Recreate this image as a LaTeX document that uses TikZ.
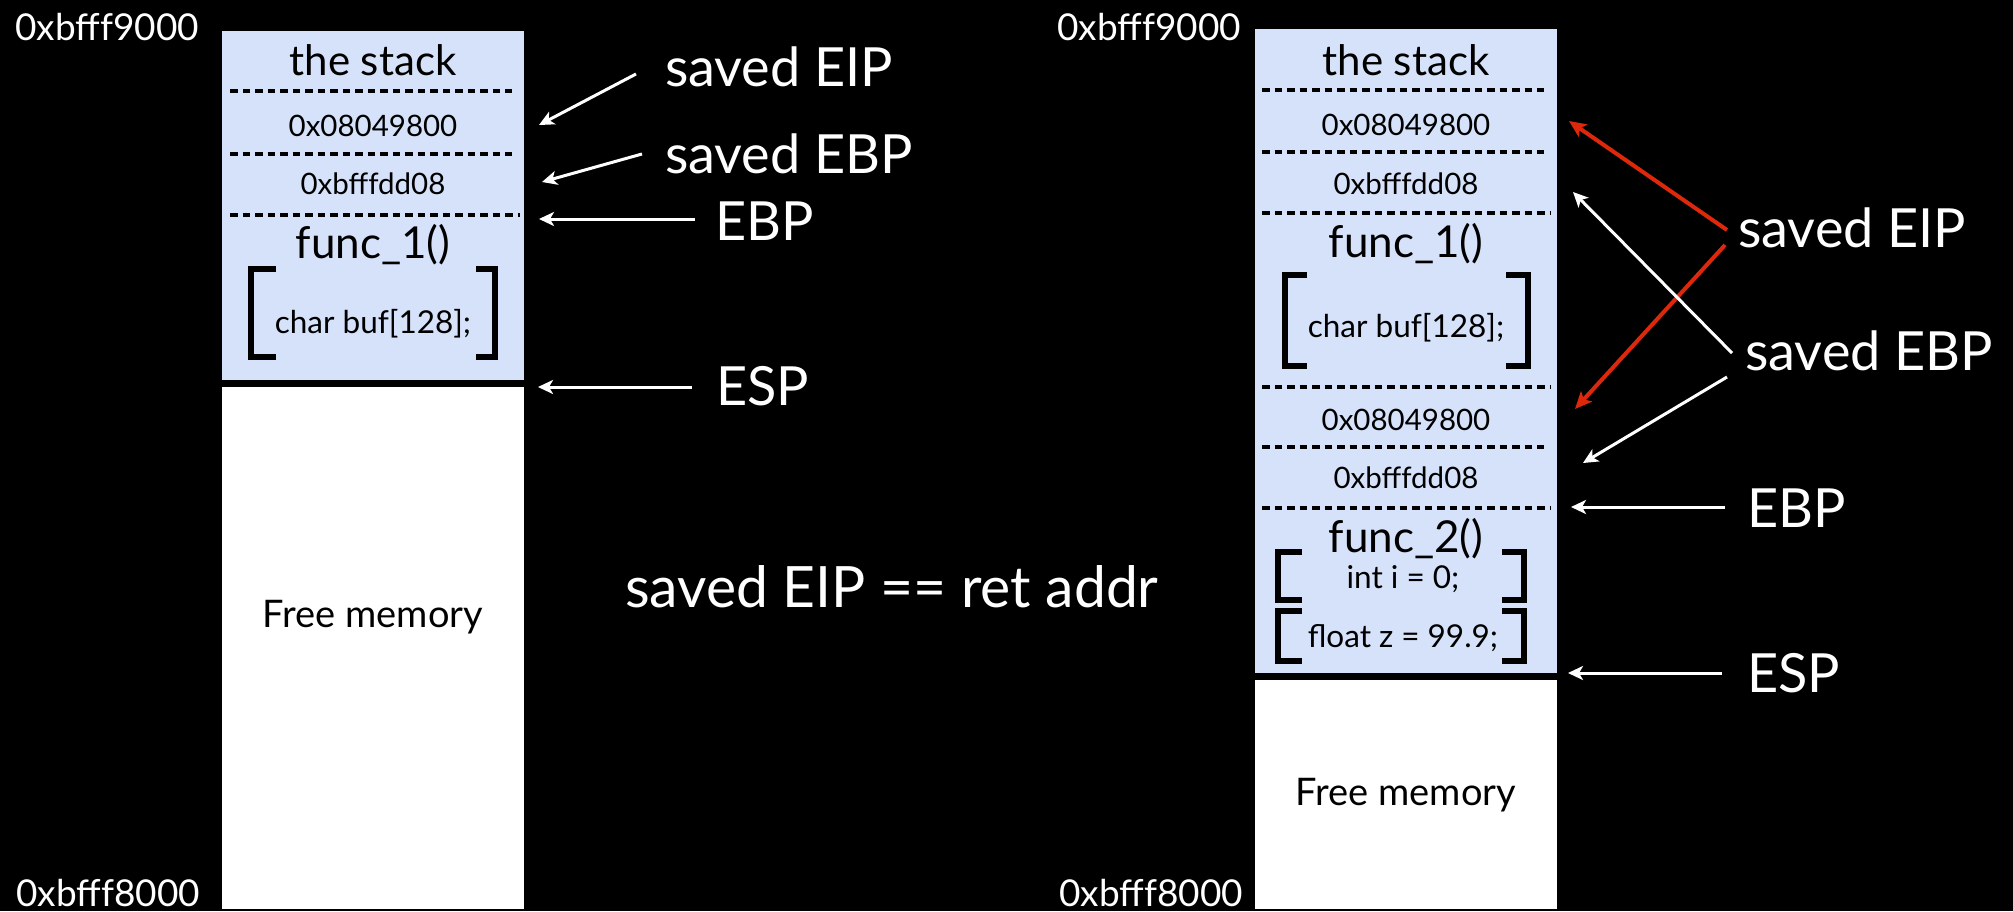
\documentclass[tikz,border=0pt]{standalone}
\usepackage{fontspec}
\setmainfont{Lato}
\usetikzlibrary{arrows.meta}
\definecolor{stackblue}{RGB}{213,226,250}
\definecolor{arrowred}{RGB}{222,40,12}
\newcommand{\fs}[1]{\fontsize{#1}{#1}\selectfont}

\begin{document}
\begin{tikzpicture}[x=1pt,y=-1pt,
  cell/.style={anchor=base, inner sep=0pt, text=black, font=\fs{29.5}},
  codetext/.style={anchor=base, inner sep=0pt, text=black, font=\fs{31.5}},
  headtext/.style={anchor=base, inner sep=0pt, text=black, font=\fs{42}},
  functext/.style={anchor=base, inner sep=0pt, text=black, font=\fs{44}},
  freetext/.style={anchor=base, inner sep=0pt, text=black, font=\fs{38}},
  boundtext/.style={anchor=base west, inner sep=0pt, text=white, font=\fs{37}},
  regtext/.style={anchor=base west, inner sep=0pt, text=white, font=\fs{54}},
  divider/.style={black, line width=3.2pt, dash pattern=on 7.5pt off 5pt},
  bracket/.style={black, line width=5.5pt, miter limit=10},
  ptr/.style={white, line width=3pt, -{Stealth[length=15pt, width=14pt, inset=4pt]}},
  redptr/.style={arrowred, line width=4pt, -{Stealth[length=17pt, width=15pt, inset=4pt]}}]

% canvas
\fill[black] (0,0) rectangle (2013,911);
\useasboundingbox (0,0) rectangle (2013,911);

% ---------------- first snapshot: inside func_1 ----------------
\fill[stackblue] (222,31) rectangle (524,380);
\fill[white] (222,387) rectangle (524,909);

\draw[divider] (230,91) -- (512,91);
\draw[divider] (230,154) -- (512,154);
\draw[divider] (230,215) -- (520,215);

\node[headtext] (lhead) at (373,75) {the stack};
\node[cell] (lret) at (373,136) {0x08049800};
\node[cell] (lebp) at (373,194) {0xbfffdd08};
\node[functext] (lfunc) at (373,258) {func\_1()};
\node[codetext] (lbuf) at (373,333) {char buf[128];};
\node[freetext] (lfree) at (373,627) {Free memory};

\draw[bracket] (276,269) -- (251,269) -- (251,357) -- (276,357);
\draw[bracket] (476,269) -- (495,269) -- (495,357) -- (476,357);

\node[boundtext] (ltop) at (15,40) {0xbfff9000};
\node[boundtext] (lbot) at (16,906) {0xbfff8000};

\node[regtext] (lsEIP) at (665,86) {saved EIP};
\node[regtext] (lsEBP) at (665,173) {saved EBP};
\node[regtext] (lEBP) at (715,240) {EBP};
\node[regtext] (lESP) at (716,405) {ESP};

\coordinate (lsEIPa) at (636,74);  \coordinate (lsEIPb) at (539,125);
\coordinate (lsEBPa) at (642,154); \coordinate (lsEBPb) at (542,182);
\coordinate (lEBPa) at (695,219);  \coordinate (lEBPb) at (539,219);
\coordinate (lESPa) at (692,387);  \coordinate (lESPb) at (538,387);
\draw[ptr] (lsEIPa) -- (lsEIPb);
\draw[ptr] (lsEBPa) -- (lsEBPb);
\draw[ptr] (lEBPa) -- (lEBPb);
\draw[ptr] (lESPa) -- (lESPb);

% ---------------- remark ----------------
\node[regtext, font=\fs{57}] (remark) at (625,607) {saved EIP == ret addr};

% ---------------- second snapshot: func_1 has called func_2 ----------------
\fill[stackblue] (1255,29) rectangle (1557,673);
\fill[white] (1255,680) rectangle (1557,909);

\draw[divider] (1262,90) -- (1544,90);
\draw[divider] (1262,152) -- (1544,152);
\draw[divider] (1262,213) -- (1551,213);
\draw[divider] (1262,387) -- (1551,387);
\draw[divider] (1262,447) -- (1544,447);
\draw[divider] (1262,508) -- (1551,508);

\node[headtext] (rhead) at (1406,75) {the stack};
\node[cell] (rret) at (1406,135) {0x08049800};
\node[cell] (rebp) at (1406,194) {0xbfffdd08};
\node[functext] (rfunc) at (1406,257) {func\_1()};
\node[codetext] (rbuf) at (1406,337) {char buf[128];};
\node[cell] (rret2) at (1406,430) {0x08049800};
\node[cell] (rebp2) at (1406,488) {0xbfffdd08};
\node[functext] (rfunc2) at (1406,552) {func\_2()};
\node[codetext] (rint) at (1403,588) {int i = 0;};
\node[codetext] (rfloat) at (1403,647) {float z = 99.9;};
\node[freetext] (rfree) at (1406,805) {Free memory};

\draw[bracket] (1307,275) -- (1285,275) -- (1285,366) -- (1307,366);
\draw[bracket] (1506,275) -- (1528,275) -- (1528,366) -- (1506,366);
\draw[bracket] (1302,552) -- (1278,552) -- (1278,600) -- (1302,600);
\draw[bracket] (1502,552) -- (1524,552) -- (1524,600) -- (1502,600);
\draw[bracket] (1302,611) -- (1278,611) -- (1278,661) -- (1302,661);
\draw[bracket] (1502,611) -- (1524,611) -- (1524,661) -- (1502,661);

\node[boundtext] (rtop) at (1057,40) {0xbfff9000};
\node[boundtext] (rbot) at (1059,906) {0xbfff8000};

\node[regtext] (rsEIP) at (1738,247) {saved EIP};
\node[regtext] (rsEBP) at (1745,370) {saved EBP};
\node[regtext] (rEBP) at (1747,527) {EBP};
\node[regtext] (rESP) at (1747,692) {ESP};

\coordinate (rEIPa) at (1727,230); \coordinate (rEIPb) at (1569,121);
\coordinate (rEIPc) at (1725,245); \coordinate (rEIPd) at (1575,409);
\coordinate (rEBPa) at (1732,353); \coordinate (rEBPb) at (1573,192);
\coordinate (rEBPc) at (1727,377); \coordinate (rEBPd) at (1583,463);
\coordinate (rfpa) at (1725,507);  \coordinate (rfpb) at (1571,507);
\coordinate (rspa) at (1722,673);  \coordinate (rspb) at (1568,673);
\draw[redptr] (rEIPa) -- (rEIPb);
\draw[redptr] (rEIPc) -- (rEIPd);
\draw[ptr] (rEBPa) -- (rEBPb);
\draw[ptr] (rEBPc) -- (rEBPd);
\draw[ptr] (rfpa) -- (rfpb);
\draw[ptr] (rspa) -- (rspb);
\end{tikzpicture}
\end{document}
